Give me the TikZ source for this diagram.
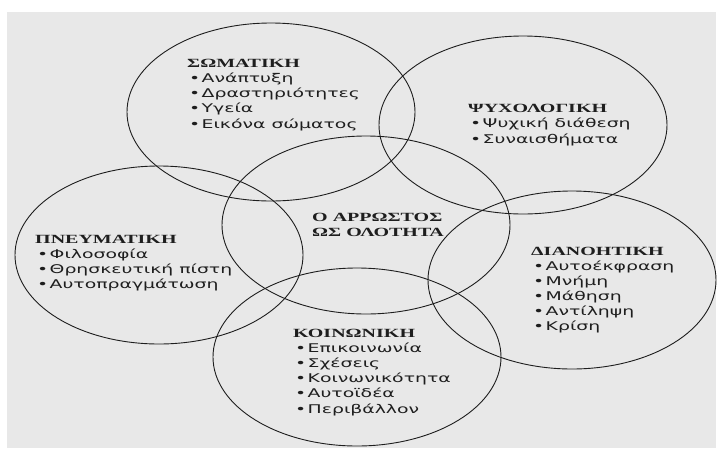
\documentclass[tikz,border=0pt]{standalone}
\usepackage{fontspec}
\usetikzlibrary{shapes.geometric}
\newfontfamily\headfont{Liberation Serif}
\newfontfamily\bodyfont[FakeStretch=1.57]{DejaVu Sans}
\definecolor{pagebg}{RGB}{232,232,232}
\definecolor{ink}{RGB}{30,30,30}
\newcommand\itembullet{\makebox[12.5pt][l]{\textbullet}}
\newcommand\hd[1]{\scalebox{1.6}[1]{#1}}
\begin{document}
\begin{tikzpicture}[x=1pt,y=-1pt,
  circ/.style={ellipse, draw=ink, line width=0.9pt, minimum width=288pt, minimum height=178pt, inner sep=0pt},
  head/.style={anchor=base west, inner sep=0pt, font=\headfont\bfseries\fontsize{12.5}{14}\selectfont, text=ink},
  item/.style={anchor=base west, inner sep=0pt, font=\bodyfont\fontsize{12}{14}\selectfont, text=ink},
]
\useasboundingbox (0,0) rectangle (718,448);
\fill[white] (0,0) rectangle (718,448);
\fill[pagebg] (7,12) rectangle (716,448);

% circles
\node[circ] (somatiki)   at (271,112) {};
\node[circ] (psychologiki) at (523,125) {};
\node[circ] (arrostos)   at (366,225) {};
\node[circ] (pneumatiki) at (159,255) {};
\node[circ] (dianoitiki) at (572,280) {};
\node[circ] (koinoniki)  at (357,357) {};

% ΣΩΜΑΤΙΚΗ
\node[head] (som-h) at (187,67) {\hd{ΣΩΜΑΤΙΚΗ}};
\foreach \t [count=\i] in {Ανάπτυξη, Δραστηριότητες, Υγεία, Εικόνα σώματος}
  \node[item] (som-\i) at (189,67+15.3*\i) {\itembullet\t};

% ΨΥΧΟΛΟΓΙΚΗ
\node[head] (psy-h) at (468,112) {\hd{ΨΥΧΟΛΟΓΙΚΗ}};
\foreach \t [count=\i] in {Ψυχική διάθεση, Συναισθήματα}
  \node[item] (psy-\i) at (470,112+15.5*\i) {\itembullet\t};

% ΠΝΕΥΜΑΤΙΚΗ
\node[head] (pne-h) at (35,243) {\hd{ΠΝΕΥΜΑΤΙΚΗ}};
\foreach \t [count=\i] in {Φιλοσοφία, Θρησκευτική πίστη, Αυτοπραγμάτωση}
  \node[item] (pne-\i) at (37,243+15.3*\i) {\itembullet\t};

% center
\node[head] (arr-1) at (312,221) {\hd{Ο ΑΡΡΩΣΤΟΣ}};
\node[head] (arr-2) at (312,236) {\hd{ΩΣ ΟΛΟΤΗΤΑ}};

% ΔΙΑΝΟΗΤΙΚΗ
\node[head] (dia-h) at (531,255) {\hd{ΔΙΑΝΟΗΤΙΚΗ}};
\foreach \t [count=\i] in {Αυτοέκφραση, Μνήμη, Μάθηση, Αντίληψη, Κρίση}
  \node[item] (dia-\i) at (533,255+15.1*\i) {\itembullet\t};

% ΚΟΙΝΩΝΙΚΗ
\node[head] (koi-h) at (293,337.5) {\hd{ΚΟΙΝΩΝΙΚΗ}};
\foreach \t [count=\i] in {Επικοινωνία, Σχέσεις, Κοινωνικότητα, Αυτοϊδέα, Περιβάλλον}
  \node[item] (koi-\i) at (295,337.5+15.1*\i) {\itembullet\t};
\end{tikzpicture}
\end{document}
